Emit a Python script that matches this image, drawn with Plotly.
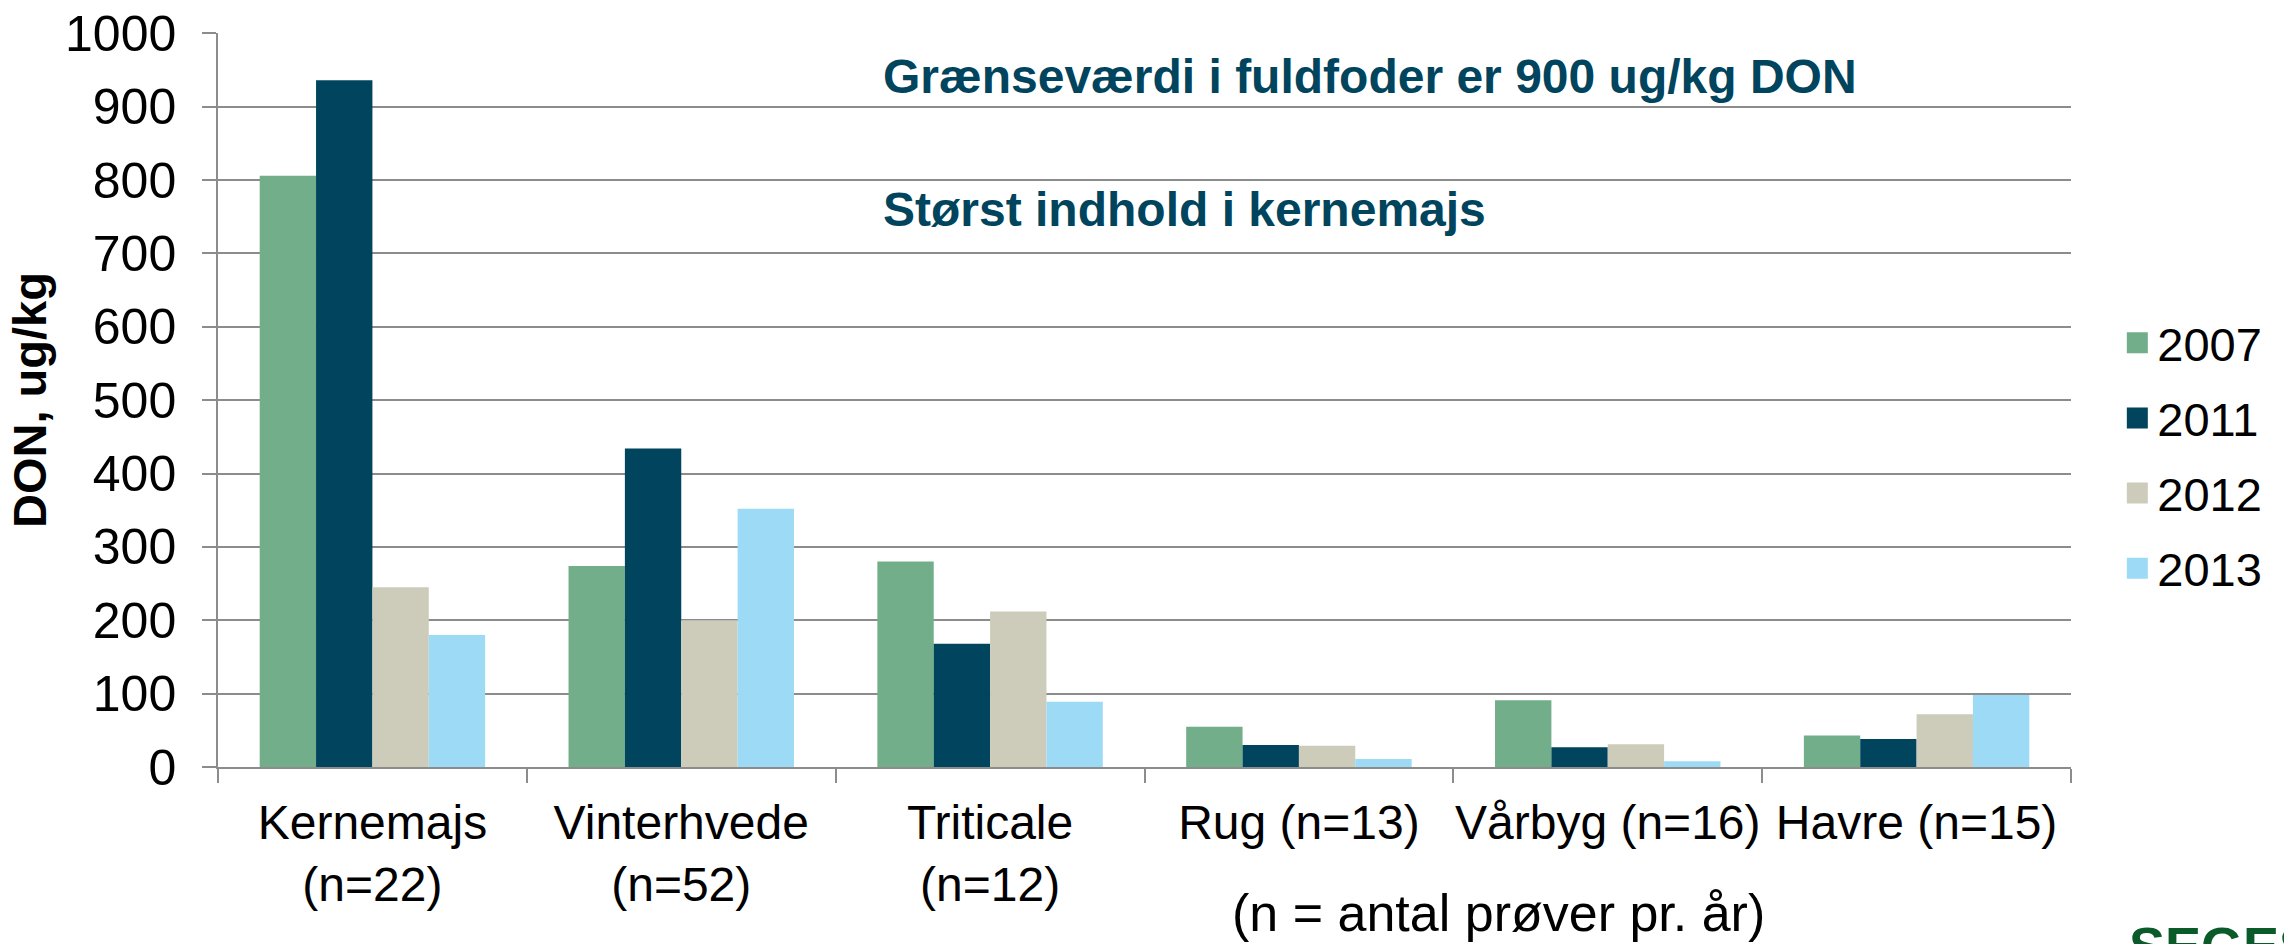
import plotly.graph_objects as go

categories = ["Kernemajs<br>(n=22)", "Vinterhvede<br>(n=52)", "Triticale<br>(n=12)",
              "Rug (n=13)", "Vårbyg (n=16)", "Havre (n=15)"]
years = ["2007", "2011", "2012", "2013"]
v2007 = [806, 274, 280, 55, 91, 43]
v2011 = [936, 434, 168, 30, 27, 38]
v2012 = [245, 200, 212, 29, 31, 72]
v2013 = [180, 352, 89, 11, 8, 98]
y_ticks = [0, 100, 200, 300, 400, 500, 600, 700, 800, 900, 1000]
colors = ["#72AE8A", "#00445E", "#CDCCBA", "#9DDAF6"]

FONT = "Liberation Sans, Arial, sans-serif"

fig = go.Figure()
for year, vals, col in zip(years, [v2007, v2011, v2012, v2013], colors):
    fig.add_trace(go.Bar(x=categories, y=vals, name=year, marker_color=col,
                         marker_line_width=0, showlegend=False))
    # bigger legend swatch than the bar default
    fig.add_trace(go.Scatter(x=[None], y=[None], mode="markers", name=year,
                             legendgroup=year,
                             marker=dict(symbol="square", size=16, color=col,
                                         line=dict(width=5, color=col))))

fig.update_layout(
    width=2284, height=944,
    margin=dict(l=218, r=213, t=33, b=177),
    paper_bgcolor="white", plot_bgcolor="white",
    barmode="group", bargap=0.27, bargroupgap=0,
    font=dict(family=FONT, size=48, color="black"),
    legend=dict(x=1.025, y=0.424, xanchor="left", yanchor="middle",
                font=dict(size=47), tracegroupgap=11, bgcolor="rgba(0,0,0,0)"),
)
fig.update_xaxes(
    automargin=False, showgrid=False, showline=True, linecolor="#8C8C8C", linewidth=2,
    ticks="outside", tickson="boundaries", ticklen=14, tickcolor="#8C8C8C",
    tickwidth=1.5, tickfont=dict(size=48), tickangle=0, ticklabelstandoff=12,
)
fig.update_yaxes(
    automargin=False, range=[0, 1000.5], tickmode="array", tickvals=y_ticks,
    ticklabeloverflow="allow",
    showgrid=True, gridcolor="#8C8C8C",
    gridwidth=1.5, showline=True, linecolor="#8C8C8C", linewidth=1.5, zeroline=False,
    ticks="outside", ticklen=14, tickcolor="#8C8C8C", tickwidth=1.5,
    tickfont=dict(size=50), ticklabelstandoff=16,
    title=dict(text="<b>DON, ug/kg</b>", font=dict(size=47), standoff=4),
)

note_color = "#00445E"
fig.add_annotation(x=0.358, y=0.941, xref="paper", yref="paper", xanchor="left",
                   yanchor="middle", showarrow=False,
                   text="<b>Grænseværdi i fuldfoder er 900 ug/kg DON</b>",
                   font=dict(size=48, color=note_color))
fig.add_annotation(x=0.358, y=0.759, xref="paper", yref="paper", xanchor="left",
                   yanchor="middle", showarrow=False,
                   text="<b>Størst indhold i kernemajs</b>",
                   font=dict(size=48, color=note_color))
fig.add_annotation(x=0.691, y=-0.241, xref="paper", yref="paper", xanchor="center",
                   yanchor="bottom", showarrow=False,
                   text="(n = antal prøver pr. år)", font=dict(size=52))
fig.add_annotation(x=1.03, y=-0.20, xref="paper", yref="paper", xanchor="left",
                   yanchor="top", showarrow=False,
                   text="<b>SEGES</b>", font=dict(size=54, color="#0B5A2A"))

# drop the browser's default 8px body margin so the figure fills the window
fig.write_html("out.html", config={"displayModeBar": False},
               post_script="document.body.style.margin = '0';")
